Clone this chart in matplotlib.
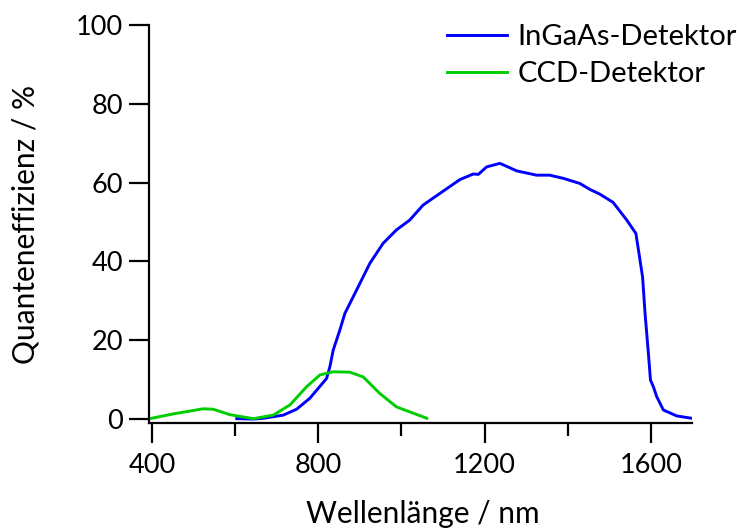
import matplotlib
matplotlib.use("Agg")
import matplotlib.pyplot as plt
from matplotlib.ticker import MultipleLocator

plt.rcParams['font.family'] = ['Lato', 'DejaVu Sans']

# --- Data ---
ingaas_nm = [604, 644, 668, 716, 748, 780, 800, 820, 828, 836, 852, 864, 892, 924, 956,
             988, 1020, 1052, 1093, 1141, 1173, 1185, 1205, 1237, 1277, 1325, 1357,
             1389, 1429, 1453, 1477, 1509, 1542, 1564, 1572, 1580, 1586, 1594, 1599,
             1606, 1614, 1630, 1662, 1698]
ingaas_qe = [0.1, 0.0, 0.2, 1.0, 2.5, 5.3, 7.8, 10.3, 13.3, 17.5, 22.6, 26.8, 32.7, 39.5, 44.6,
             48.0, 50.5, 54.3, 57.3, 60.8, 62.2, 62.1, 64.0, 64.9, 63.0, 61.9, 61.9,
             61.1, 59.8, 58.3, 57.1, 55.0, 50.5, 47.1, 41.6, 36.1, 26.8, 16.7, 9.9,
             8.2, 5.7, 2.3, 0.8, 0.2]

ccd_nm = [399, 451, 523, 547, 588, 644, 692, 732, 772, 804, 836, 876, 908, 948, 988, 1061]
ccd_qe = [0.2, 1.3, 2.6, 2.5, 1.1, 0.1, 1.0, 3.6, 8.2, 11.2, 12.0, 11.9, 10.7, 6.5, 3.1, 0.2]

TICK_FS = 19.5
LABEL_FS = 21.5
LEG_FS = 21

fig = plt.figure(figsize=(7.37, 5.32), dpi=100)
ax = fig.add_axes([0.2022, 0.2049, 0.7368, 0.748])

ax.plot(ingaas_nm, ingaas_qe, color='#0000ff', lw=2.1, label='InGaAs-Detektor')
ax.plot(ccd_nm, ccd_qe, color='#00cc00', lw=2.1, label='CCD-Detektor')

ax.set_xlim(393, 1699)
ax.set_ylim(-1.0, 100)

ax.xaxis.set_major_locator(MultipleLocator(400))
ax.xaxis.set_minor_locator(MultipleLocator(200))
ax.yaxis.set_major_locator(MultipleLocator(20))

for s in ['top', 'right']:
    ax.spines[s].set_visible(False)
for s in ['left', 'bottom']:
    ax.spines[s].set_linewidth(1.6)

ax.tick_params(axis='both', which='major', direction='out', length=14.5, width=1.6,
               labelsize=TICK_FS)
ax.tick_params(axis='y', which='major', pad=4)
ax.tick_params(axis='x', which='major', pad=7)
ax.tick_params(axis='x', which='minor', direction='out', length=9.5, width=1.6)

# x label sits low, just inside the bottom edge
ax.set_xlabel('Wellenlänge / nm', fontsize=LABEL_FS, va='center')
ax.xaxis.set_label_coords(0.505, -0.228)
ax.set_ylabel('Quanteneffizienz / %', fontsize=LABEL_FS, va='center')
ax.yaxis.set_label_coords(-0.227, 0.5)

ax.legend(loc='upper left', bbox_to_anchor=(0.6065, 0.954), bbox_transform=fig.transFigure,
          frameon=False, fontsize=LEG_FS, borderpad=0, borderaxespad=0,
          handlelength=2.07, handletextpad=0.34, labelspacing=0.37)

fig.savefig('out.png', dpi=100)
